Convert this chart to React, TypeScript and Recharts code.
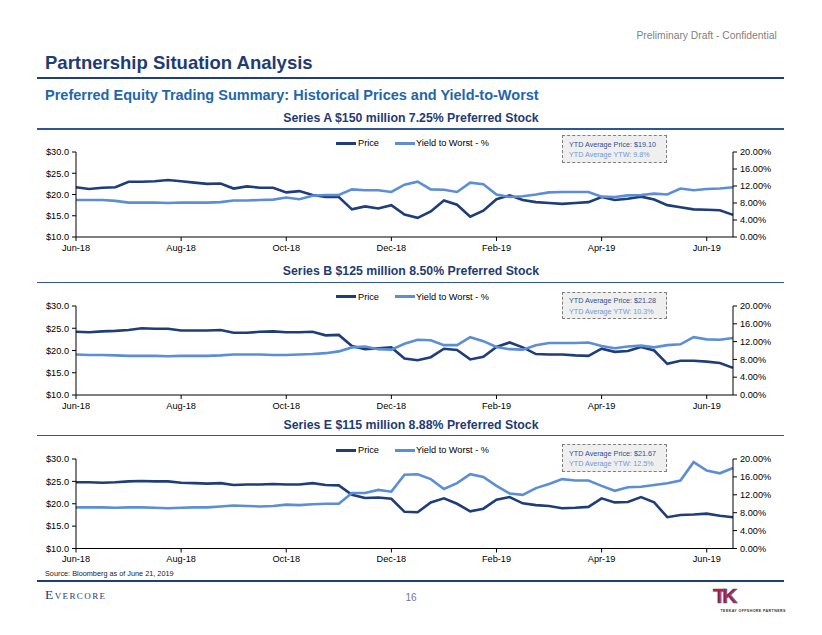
import React from "react";
import { Line, LineChart, XAxis, YAxis } from "recharts";

// trading-day index of each sampled point (0 = 21 Jun 2018, 250 = 21 Jun 2019)
const tradingDay = [
  0, 5, 10, 15, 20, 25, 30, 35, 40, 45, 50, 55, 60, 65, 70, 75, 80, 85, 90, 95, 100,
  105, 110, 115, 120, 125, 130, 135, 140, 145, 150, 155, 160, 165, 170, 175, 180, 185,
  190, 195, 200, 205, 210, 215, 220, 225, 230, 235, 240, 245, 250,
];

const xTicks = [0, 40, 80, 120, 160, 200, 240];
const xTickLabels = ["Jun-18", "Aug-18", "Oct-18", "Dec-18", "Feb-19", "Apr-19", "Jun-19"];
const priceTicks = [10, 15, 20, 25, 30];
const ytwTicks = [0, 4, 8, 12, 16, 20];

const seriesAPrice = [
  21.7, 21.3, 21.6, 21.7, 23.0, 23.0, 23.1, 23.4, 23.1, 22.8, 22.5, 22.6, 21.4, 21.9, 21.6,
  21.6, 20.5, 20.8, 19.9, 19.4, 19.4, 16.5, 17.2, 16.7, 17.5, 15.3, 14.5, 16.0, 18.6, 17.6,
  14.8, 16.2, 18.9, 19.8, 18.7, 18.2, 18.0, 17.8, 18.0, 18.2, 19.4, 18.7, 19.0, 19.5, 18.8,
  17.5, 17.0, 16.5, 16.4, 16.3, 15.2,
];
const seriesAYtw = [
  8.7, 8.7, 8.7, 8.5, 8.1, 8.1, 8.1, 8.0, 8.1, 8.1, 8.1, 8.2, 8.6, 8.6, 8.7, 8.8, 9.3, 8.9,
  9.7, 9.9, 9.9, 11.2, 11.0, 11.0, 10.6, 12.3, 13.0, 11.2, 11.1, 10.6, 12.8, 12.4, 10.0, 9.4,
  9.6, 10.0, 10.5, 10.6, 10.6, 10.6, 9.5, 9.4, 9.8, 9.9, 10.2, 10.0, 11.4, 11.0, 11.3, 11.4,
  11.7,
];

const seriesBPrice = [
  24.2, 24.1, 24.3, 24.4, 24.6, 25.0, 24.9, 24.9, 24.5, 24.5, 24.5, 24.6, 24.0, 24.0, 24.2,
  24.3, 24.1, 24.1, 24.2, 23.4, 23.5, 21.0, 20.3, 20.5, 20.7, 18.2, 17.8, 18.5, 20.4, 20.1,
  18.0, 18.6, 20.8, 21.8, 20.7, 19.2, 19.1, 19.1, 18.9, 18.8, 20.4, 19.7, 19.9, 20.8, 20.0,
  17.0, 17.7, 17.7, 17.5, 17.2, 16.1,
];
const seriesBYtw = [
  9.1, 9.0, 9.0, 8.9, 8.8, 8.8, 8.8, 8.7, 8.8, 8.8, 8.8, 8.9, 9.1, 9.1, 9.1, 9.0, 9.0, 9.1,
  9.2, 9.4, 9.8, 10.7, 10.9, 10.3, 10.2, 11.5, 12.4, 12.3, 11.2, 11.2, 13.0, 12.1, 10.8, 10.3,
  10.2, 11.2, 11.7, 11.7, 11.7, 11.8, 11.0, 10.5, 10.9, 11.1, 10.7, 11.2, 11.4, 13.0, 12.5,
  12.4, 12.8,
];

const seriesEPrice = [
  24.8, 24.8, 24.7, 24.8, 25.0, 25.1, 25.0, 25.0, 24.7, 24.6, 24.5, 24.6, 24.2, 24.3, 24.3,
  24.4, 24.3, 24.3, 24.6, 24.2, 24.1, 22.0, 21.3, 21.4, 21.1, 18.2, 18.1, 20.3, 21.2, 20.0,
  18.3, 18.9, 20.9, 21.5, 20.1, 19.7, 19.5, 19.0, 19.1, 19.3, 21.2, 20.3, 20.4, 21.5, 20.3,
  17.0, 17.5, 17.6, 17.8, 17.3, 17.0,
];
const seriesEYtw = [
  9.2, 9.2, 9.2, 9.1, 9.2, 9.2, 9.1, 9.0, 9.1, 9.2, 9.2, 9.4, 9.6, 9.5, 9.4, 9.5, 9.8, 9.7,
  9.9, 10.0, 10.0, 12.4, 12.4, 13.1, 12.7, 16.5, 16.6, 15.5, 13.3, 14.6, 16.6, 16.0, 14.0,
  12.3, 12.0, 13.5, 14.4, 15.5, 15.2, 15.2, 14.0, 12.9, 13.7, 13.8, 14.2, 14.6, 15.2, 19.3,
  17.4, 16.8, 18.0,
];

const FONT = '"Liberation Sans", Arial, sans-serif';
const NAVY = "#1F3B73";
const PRICE_COLOR = "#1F3D7A";
const YTW_COLOR = "#5B8ED6";
const TICK = { fontSize: 9.2, fill: "#000", fontFamily: FONT };

const buildRows = (price: number[], ytw: number[]) =>
  tradingDay.map((d, i) => ({ d, price: price[i], ytw: ytw[i] }));

interface PanelProps {
  title: string;
  titleY: number;
  ruleY: number;
  legendY: number;
  boxTop: number;
  chartTop: number;
  plotHeight: number;
  price: number[];
  ytw: number[];
  ytdPrice: string;
  ytdYtw: string;
}

function Panel(p: PanelProps) {
  const rows = buildRows(p.price, p.ytw);
  const legendText: React.CSSProperties = {
    position: "absolute",
    fontSize: 9.2,
    lineHeight: "10px",
    top: p.legendY - 5,
    color: "#000",
    whiteSpace: "nowrap",
  };
  const legendLine = (left: number, color: string): React.CSSProperties => ({
    position: "absolute",
    left,
    width: 20,
    height: 3,
    top: p.legendY - 1.5,
    background: color,
  });
  return (
    <>
      <div
        style={{
          position: "absolute",
          left: 0,
          width: 822,
          top: p.titleY - 6.5,
          textAlign: "center",
          fontSize: 12.3,
          lineHeight: "13px",
          fontWeight: "bold",
          color: NAVY,
        }}
      >
        {p.title}
      </div>
      <div style={{ position: "absolute", left: 37, width: 747, top: p.ruleY - 0.7, height: 1.4, background: "#2E5597" }} />

      <div style={{ position: "absolute", left: 0, top: p.chartTop }}>
        <LineChart
          width={800}
          height={12 + p.plotHeight + 20}
          data={rows}
          margin={{ top: 12, right: 7, bottom: 0, left: 0 }}
        >
          <XAxis
            dataKey="d"
            type="number"
            domain={[0, 250]}
            ticks={xTicks}
            tickFormatter={(v: number) => xTickLabels[xTicks.indexOf(v)] ?? ""}
            tick={TICK}
            tickSize={4}
            tickMargin={3}
            height={20}
            stroke="#000"
            interval={0}
          />
          <YAxis
            yAxisId="price"
            domain={[10, 30]}
            ticks={priceTicks}
            tickFormatter={(v: number) => `$${v.toFixed(1)}`}
            tick={TICK}
            tickSize={4}
            tickMargin={3}
            width={76}
            stroke="#000"
            interval={0}
          />
          <YAxis
            yAxisId="ytw"
            orientation="right"
            domain={[0, 20]}
            ticks={ytwTicks}
            tickFormatter={(v: number) => `${v.toFixed(2)}%`}
            tick={TICK}
            tickSize={4}
            tickMargin={3}
            width={60}
            stroke="#000"
            interval={0}
          />
          <Line
            yAxisId="price"
            dataKey="price"
            stroke={PRICE_COLOR}
            strokeWidth={2.6}
            dot={false}
            type="linear"
            isAnimationActive={false}
          />
          <Line
            yAxisId="ytw"
            dataKey="ytw"
            stroke={YTW_COLOR}
            strokeWidth={2.6}
            dot={false}
            type="linear"
            isAnimationActive={false}
          />
        </LineChart>
      </div>

      <div style={legendLine(336, PRICE_COLOR)} />
      <div style={{ ...legendText, left: 358 }}>Price</div>
      <div style={legendLine(395, YTW_COLOR)} />
      <div style={{ ...legendText, left: 416 }}>Yield to Worst - %</div>

      <div
        style={{
          position: "absolute",
          left: 561.5,
          top: p.boxTop,
          width: 105,
          height: 27.5,
          boxSizing: "border-box",
          border: "1.3px dashed #7f7f7f",
          background: "#efefef",
          fontSize: 7.2,
          lineHeight: "8px",
          whiteSpace: "nowrap",
        }}
      >
        <div style={{ position: "absolute", left: 6.5, top: 4.5, color: "#2F4F8F" }}>{p.ytdPrice}</div>
        <div style={{ position: "absolute", left: 6.5, top: 15, color: "#6E9AD8" }}>{p.ytdYtw}</div>
      </div>
    </>
  );
}

export default function App() {
  return (
    <div
      style={{
        position: "absolute",
        left: 0,
        top: 0,
        width: 822,
        height: 635,
        background: "#fff",
        fontFamily: FONT,
        overflow: "hidden",
      }}
    >
      <div
        style={{
          position: "absolute",
          right: 45.3,
          top: 30,
          fontSize: 10.3,
          lineHeight: "11px",
          color: "#7f7f7f",
          whiteSpace: "nowrap",
        }}
      >
        Preliminary Draft - Confidential
      </div>
      <div
        style={{
          position: "absolute",
          left: 45,
          top: 53,
          fontSize: 18.5,
          lineHeight: "19px",
          fontWeight: "bold",
          color: NAVY,
          whiteSpace: "nowrap",
        }}
      >
        Partnership Situation Analysis
      </div>
      <div style={{ position: "absolute", left: 37, width: 747, top: 77.3, height: 2.2, background: "#1F3F7A" }} />
      <div
        style={{
          position: "absolute",
          left: 45,
          top: 87.5,
          fontSize: 14.5,
          lineHeight: "15px",
          fontWeight: "bold",
          color: "#1F66AC",
          whiteSpace: "nowrap",
        }}
      >
        Preferred Equity Trading Summary: Historical Prices and Yield-to-Worst
      </div>

      <Panel
        title="Series A $150 million 7.25% Preferred Stock"
        titleY={118.3}
        ruleY={129}
        legendY={143.3}
        boxTop={135}
        chartTop={140}
        plotHeight={85}
        price={seriesAPrice}
        ytw={seriesAYtw}
        ytdPrice="YTD Average Price: $19.10"
        ytdYtw="YTD Average YTW: 9.8%"
      />
      <Panel
        title="Series B $125 million 8.50% Preferred Stock"
        titleY={271.7}
        ruleY={282.7}
        legendY={296.7}
        boxTop={291.7}
        chartTop={294}
        plotHeight={89}
        price={seriesBPrice}
        ytw={seriesBYtw}
        ytdPrice="YTD Average Price: $21.28"
        ytdYtw="YTD Average YTW: 10.3%"
      />
      <Panel
        title="Series E $115 million 8.88% Preferred Stock"
        titleY={425}
        ruleY={435.7}
        legendY={450}
        boxTop={444.3}
        chartTop={447}
        plotHeight={89.5}
        price={seriesEPrice}
        ytw={seriesEYtw}
        ytdPrice="YTD Average Price: $21.67"
        ytdYtw="YTD Average YTW: 12.5%"
      />

      <div
        style={{
          position: "absolute",
          left: 45,
          top: 569.5,
          fontSize: 7.3,
          lineHeight: "8px",
          color: "#222",
          whiteSpace: "nowrap",
        }}
      >
        Source: Bloomberg as of June 21, 2019
      </div>
      <div style={{ position: "absolute", left: 37, width: 747, top: 579.8, height: 2.5, background: "#1F3F7A" }} />
      <div
        style={{
          position: "absolute",
          left: 45,
          top: 587.5,
          fontSize: 13.5,
          lineHeight: "14px",
          fontFamily: '"Liberation Serif", "DejaVu Serif", serif',
          fontVariant: "small-caps",
          color: NAVY,
          letterSpacing: 1.4,
          whiteSpace: "nowrap",
        }}
      >
        Evercore
      </div>
      <div
        style={{
          position: "absolute",
          left: 0,
          width: 822,
          top: 591.5,
          textAlign: "center",
          fontSize: 10,
          lineHeight: "11px",
          color: "#6b7a94",
        }}
      >
        16
      </div>
      <div
        style={{
          position: "absolute",
          left: 713,
          top: 584.5,
          fontSize: 21,
          lineHeight: "21px",
          fontWeight: "bold",
          color: "#C8193C",
          letterSpacing: -3.5,
          WebkitTextStroke: "0.7px #2E5597",
        }}
      >
        TK
      </div>
      <div
        style={{
          position: "absolute",
          left: 720.5,
          top: 608.8,
          fontSize: 3.6,
          lineHeight: "4px",
          fontWeight: "bold",
          color: "#333",
          whiteSpace: "nowrap",
          letterSpacing: 0.4,
        }}
      >
        TEEKAY OFFSHORE PARTNERS
      </div>
    </div>
  );
}
